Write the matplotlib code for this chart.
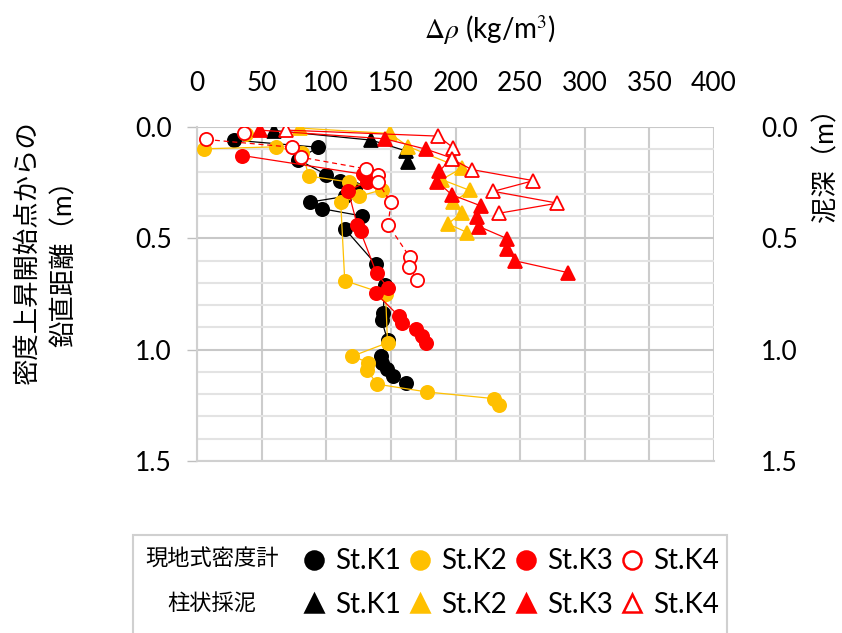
import numpy as np
import matplotlib
matplotlib.use('Agg')
import matplotlib.pyplot as plt
from matplotlib.lines import Line2D
from matplotlib.patches import Rectangle

plt.rcParams['font.family'] = ['Lato', 'Noto Sans CJK JP', 'DejaVu Sans']
plt.rcParams['mathtext.fontset'] = 'stix'

# 現地式密度計 (density meter) -- x: delta rho (kg/m3), y: distance (m)
k1_x = [28.5, 93.7, 78, 100, 110.5, 122.6, 114.3, 87.7, 96.8, 128, 114.3, 138.4,
        145.3, 144, 142.8, 147.4, 142, 142.8, 147.1, 151.8, 161.6]
k1_y = [0.059, 0.091, 0.146, 0.214, 0.244, 0.277, 0.312, 0.337, 0.367, 0.40, 0.457,
        0.616, 0.709, 0.837, 0.867, 0.957, 1.029, 1.059, 1.085, 1.118, 1.15]

k2_x = [38, np.nan, 5.3, 61.4, 81.5, 86.5, 117.4, 143.5, 125.2, 111.2, 114.3, 145.9,
        147.4, 120.3, 132.4, 131.6, 139.4, 178, 230, 233.7]
k2_y = [0.03, np.nan, 0.098, 0.089, 0.116, 0.22, 0.247, 0.281, 0.312, 0.339, 0.69,
        0.751, 0.969, 1.029, 1.058, 1.092, 1.155, 1.19, 1.22, 1.25]

k3_x = [35, 128.5, 131.2, 117, 123.9, 126.5, 138.9, 147.9, 138.4, 156.2, 158.8,
        169.1, 174.3, 177.1]
k3_y = [0.128, 0.212, 0.247, 0.286, 0.439, 0.469, 0.657, 0.722, 0.747, 0.849, 0.879,
        0.908, 0.939, 0.969]

k4_x = [36, np.nan, 7.1, 73.8, 80.7, 130.6, 139.7, 140.2, 150, 147.9, 164.7, 164.2, 170.4]
k4_y = [0.028, np.nan, 0.056, 0.091, 0.136, 0.188, 0.217, 0.249, 0.339, 0.439, 0.585,
        0.627, 0.687]

# 柱状採泥 (core sampling) -- x: delta rho, y: mud depth (m)
c1_x = [59.8, 135, 161.4, 163]
c1_y = [0.016, 0.059, 0.107, 0.157]

c2_x = [79.5, 149.2, 163.5, 204.8, 189.3, 211.2, 197.8, 204.8, 194, 209.2]
c2_y = [0.005, 0.029, 0.088, 0.185, 0.236, 0.285, 0.339, 0.387, 0.435, 0.474]

c3_x = [48.4, 145.3, 177.4, 197, 187.4, 185.9, 197, 219.5, 216.4, 218.2, 240.2,
        240.2, 246.1, 287]
c3_y = [0.014, 0.053, 0.100, 0.139, 0.199, 0.245, 0.304, 0.354, 0.402, 0.447, 0.502,
        0.549, 0.601, 0.654]

c4_x = [69.1, 186.7, 198.3, 197, 212.5, 260.3, 229.3, 278.9, 234]
c4_y = [0.014, 0.041, 0.094, 0.143, 0.191, 0.241, 0.289, 0.342, 0.387]

names = ['St.K1', 'St.K2', 'St.K3', 'St.K4']
colors = ['#000000', '#FFC000', '#FF0000', '#FF0000']
ticklabels_y = ['0.0', '0.5', '1.0', '1.5']
row_titles = ['現地式密度計', '柱状採泥']

fig = plt.figure(figsize=(8.42, 6.33), dpi=100)
ax = fig.add_axes([197 / 842, 1 - 461 / 633, 517 / 842, 334 / 633])

ms = 9.5
circ = []
for i, (x, y) in enumerate([(k1_x, k1_y), (k2_x, k2_y), (k3_x, k3_y), (k4_x, k4_y)]):
    open_m = (i == 3)
    h, = ax.plot(x, y, color=colors[i], lw=0.9, ls=(0, (4, 3)) if open_m else '-',
                 marker='o', ms=ms, mec=colors[i], mew=1.3,
                 mfc='white' if open_m else colors[i], zorder=3 + i)
    circ.append(h)

tri = []
for i, (x, y) in enumerate([(c1_x, c1_y), (c2_x, c2_y), (c3_x, c3_y), (c4_x, c4_y)]):
    open_m = (i == 3)
    h, = ax.plot(x, y, color=colors[i], lw=0.9, marker='^', ms=ms, mec=colors[i],
                 mew=1.3, mfc='white' if open_m else colors[i], zorder=8 + i)
    tri.append(h)

ax.set_xlim(0, 400)
ax.set_ylim(1.5, 0)
ax.set_xticks(np.arange(0, 401, 50))
ax.set_yticks([0, 0.5, 1.0, 1.5])
ax.set_yticks(np.arange(0, 1.51, 0.1), minor=True)
ax.set_yticklabels(ticklabels_y)
ax.xaxis.tick_top()
ax.tick_params(axis='x', length=0, pad=22, labelsize=19)
ax.tick_params(axis='y', which='major', length=7, width=1, color='#bfbfbf',
               pad=11, labelsize=19)
ax.tick_params(axis='y', which='minor', length=0)
ax.grid(axis='x', color='#cccccc', lw=1.5)
ax.grid(axis='y', which='minor', color='#e3e3e3', lw=1.5)
ax.grid(axis='y', which='major', color='#c8c8c8', lw=1.5)
ax.set_axisbelow(True)
for s in ['top', 'right']:
    ax.spines[s].set_visible(False)
ax.spines['left'].set_color('#d0d0d0')
ax.spines['left'].set_linewidth(1.5)
ax.spines['bottom'].set_color('#d0d0d0')
ax.spines['bottom'].set_linewidth(1.5)

ax2 = ax.twinx()
ax2.set_ylim(1.5, 0)
ax2.set_yticks([0, 0.5, 1.0, 1.5])
ax2.set_yticklabels(ticklabels_y)
ax2.tick_params(axis='y', length=0, pad=34, labelsize=19)
for s in ax2.spines.values():
    s.set_visible(False)

fig.text(490 / 842, 1 - 30 / 633, r'$\mathit{\Delta\rho}$ (kg/m$^3$)', fontsize=20,
         ha='center', va='center')
fig.text(27 / 842, 1 - 252 / 633, '密度上昇開始点からの', fontsize=19,
         rotation=90, ha='center', va='center')
fig.text(64 / 842, 1 - 257 / 633, '鉛直距離（m）', fontsize=19,
         rotation=90, ha='center', va='center')
fig.text(826 / 842, 1 - 158 / 633, '泥深（m）', fontsize=19, rotation=90,
         ha='center', va='center')

# legend: frame + row titles drawn by hand, markers via legend
fig.add_artist(Rectangle((133 / 842, -0.01), 594 / 842, 1 - 535 / 633 + 0.01,
                         transform=fig.transFigure, fill=False,
                         edgecolor='#d0d0d0', lw=1.5))
fig.text(212 / 842, 1 - 558 / 633, row_titles[0], fontsize=16, ha='center', va='center')
fig.text(212 / 842, 1 - 603 / 633, row_titles[1], fontsize=16, ha='center', va='center')

leg_handles = []
labels = []
for i in range(4):
    for h in (circ[i], tri[i]):
        leg_handles.append(Line2D([], [], ls='none', marker=h.get_marker(), ms=13,
                                  mec=h.get_mec(), mfc=h.get_mfc(), mew=1.8))
        labels.append(names[i])
leg = fig.legend(leg_handles, labels, ncol=4, loc='upper left',
                 bbox_to_anchor=(293 / 842, 0.0, (727 - 293) / 842, 1 - 540 / 633),
                 mode='expand', borderaxespad=0, fontsize=20, frameon=False,
                 handlelength=0.9, handletextpad=0.3, columnspacing=0.4,
                 labelspacing=0.63, borderpad=0.3)

fig.savefig('out.png', dpi=100)
